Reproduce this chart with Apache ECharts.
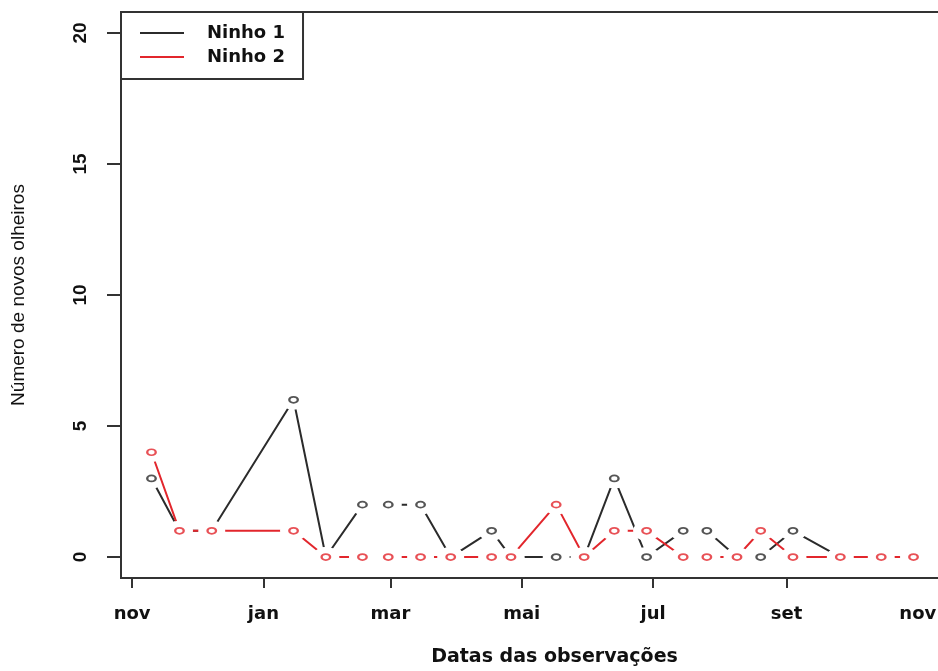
<!DOCTYPE html>
<html>
<head>
<meta charset="utf-8">
<script src="https://cdn.jsdelivr.net/npm/echarts@6/dist/echarts.min.js"></script>
<style>
html,body{margin:0;padding:0;background:#fff;}
#chart{width:938px;height:671px;}
</style>
</head>
<body>
<div id="chart"></div>
<script>
// ---- data ----
const dates = ['2008-11-10','2008-11-23','2008-12-08','2009-01-15','2009-01-30','2009-02-16','2009-02-28',
  '2009-03-15','2009-03-29','2009-04-17','2009-04-26','2009-05-17','2009-05-30','2009-06-13','2009-06-28',
  '2009-07-15','2009-07-26','2009-08-09','2009-08-20','2009-09-04','2009-09-26','2009-10-15','2009-10-30'];
const ninho1 = [3,1,1,6,0,2,2,2,0,1,0,0,0,3,0,1,1,0,0,1,0,0,0];
const ninho2 = [4,1,1,1,0,0,0,0,0,0,0,2,0,1,1,0,0,0,1,0,0,0,0];
const seriesNames = ['Ninho 1','Ninho 2'];
const tickDates = ['2008-11-01','2009-01-01','2009-03-01','2009-05-01','2009-07-01','2009-09-01','2009-11-01'];
const tickLabels = ['nov','jan','mar','mai','jul','set','nov'];
const yTicks = [0,5,10,15,20];
const yLimits = [0,20];
const xTitle = 'Datas das observações';
const yTitle = 'Número de novos olheiros';

// ---- build ----
const toTs = s => new Date(s + 'T00:00:00').getTime();
const xs = dates.map(toTs);
const tickTs = tickDates.map(toTs);
const xPad = 0.04 * (Math.max(...xs) - Math.min(...xs));
const xMin = Math.min(...xs) - xPad, xMax = Math.max(...xs) + xPad;
const yPad = 0.04 * (yLimits[1] - yLimits[0]);
const pairs = vals => xs.map((t, i) => [t, vals[i]]);

const colors = ['#2b2b2b', '#e2262c'];
const dataSets = [ninho1, ninho2];

const series = [];
dataSets.forEach((vals, k) => {
  series.push({
    name: seriesNames[k], type: 'line', data: pairs(vals), z: 2 + k * 2,
    symbol: 'circle', symbolSize: [27, 20], showSymbol: true,
    itemStyle: {color: '#fff', borderWidth: 0},
    lineStyle: {color: colors[k], width: 2},
    emphasis: {disabled: true}, silent: true, animation: false
  });
  series.push({
    name: seriesNames[k], type: 'scatter', data: pairs(vals), z: 3 + k * 2,
    symbol: 'emptyCircle', symbolSize: [8.5, 6],
    itemStyle: {color: colors[k], borderColor: colors[k], borderWidth: 2},
    emphasis: {disabled: true}, silent: true, animation: false
  });
});

const chart = echarts.init(document.getElementById('chart'));
chart.setOption({
  animation: false,
  backgroundColor: '#fff',
  grid: {left: 121, top: 12, right: -6, bottom: 93, show: true, borderColor: '#333', borderWidth: 2,
         containLabel: false, outerBoundsMode: 'none'},
  legend: {
    left: 121, top: 12, orient: 'vertical',
    data: seriesNames.map((n, k) => ({name: n, icon: 'rect', itemStyle: {color: colors[k]}})),
    itemWidth: 44, itemHeight: 2, itemGap: 4,
    padding: [11, 18, 12, 19],
    borderColor: '#333', borderWidth: 2, backgroundColor: '#fff',
    textStyle: {fontFamily: 'DejaVu Sans', fontWeight: 'bold', fontSize: 18, color: '#111', lineHeight: 20, padding: [0, 0, 0, 18]},
    selectedMode: false
  },
  xAxis: {
    type: 'value', min: xMin, max: xMax,
    axisLine: {show: true, onZero: false, lineStyle: {color: '#333', width: 2}},
    axisTick: {show: true, length: 10, customValues: tickTs.slice(0, 6), lineStyle: {color: '#333', width: 2}},
    axisLabel: {
      customValues: tickTs, margin: 27, color: '#111',
      fontFamily: 'DejaVu Sans', fontWeight: 'bold', fontSize: 18,
      formatter: v => {
        let best = 0;
        tickTs.forEach((t, i) => { if (Math.abs(t - v) < Math.abs(tickTs[best] - v)) best = i; });
        return tickLabels[best];
      }
    },
    splitLine: {show: false},
    name: xTitle, nameLocation: 'middle', nameGap: 70,
    nameTextStyle: {fontFamily: 'DejaVu Sans', fontWeight: 'bold', fontSize: 19, color: '#111', padding: [0, 0, 0, 44]}
  },
  yAxis: {
    type: 'value', min: yLimits[0] - yPad, max: yLimits[1] + yPad,
    axisLine: {show: true, onZero: false, lineStyle: {color: '#333', width: 2}},
    axisTick: {show: true, length: 14, customValues: yTicks, lineStyle: {color: '#333', width: 2}},
    axisLabel: {customValues: yTicks, rotate: 90, margin: 31, color: '#111',
      fontFamily: 'Liberation Sans', fontWeight: 'bold', fontSize: 19},
    splitLine: {show: false},
    name: yTitle, nameLocation: 'middle', nameGap: 93,
    nameTextStyle: {fontFamily: 'Liberation Sans', fontSize: 19, color: '#111'}
  },
  series: series
});
</script>
</body>
</html>
